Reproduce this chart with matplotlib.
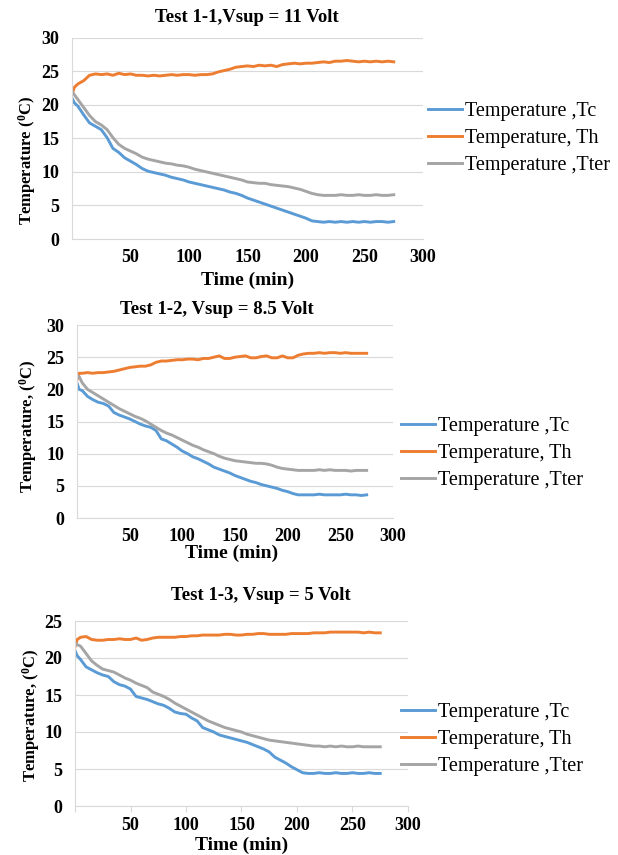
import numpy as np
import matplotlib
matplotlib.use('Agg')
import matplotlib.pyplot as plt

plt.rcParams['font.family'] = ['Liberation Serif', 'DejaVu Serif']
plt.rcParams['mathtext.fontset'] = 'custom'
plt.rcParams['mathtext.rm'] = 'Liberation Serif:bold'
plt.rcParams['mathtext.default'] = 'rm'

# time axis (min), same for all three tests
minutes = [0, 2, 5] + list(range(10, 280, 5))

# Test 1-1, Vsup = 11 V
tc_1 = [21.0, 20.3, 19.8,
        18.5, 17.3, 16.8, 16.3, 15.1, 13.5, 12.9, 12.1,
        11.6, 11.1, 10.5, 10.1, 9.9, 9.7, 9.5, 9.2, 9.0, 8.8,
        8.5, 8.3, 8.1, 7.9, 7.7, 7.5, 7.3, 7.0, 6.8, 6.5,
        6.1, 5.8, 5.5, 5.2, 4.9, 4.6, 4.3, 4.0, 3.7, 3.4,
        3.1, 2.7, 2.6, 2.5, 2.6, 2.5, 2.6, 2.5, 2.6, 2.5,
        2.6, 2.5, 2.6, 2.6, 2.5, 2.6]
th_1 = [21.5, 22.6, 23.1,
        23.6, 24.4, 24.6, 24.5, 24.6, 24.4, 24.7, 24.5,
        24.6, 24.4, 24.4, 24.3, 24.4, 24.3, 24.4, 24.5, 24.4, 24.5,
        24.5, 24.4, 24.5, 24.5, 24.6, 24.9, 25.1, 25.3, 25.6, 25.7,
        25.8, 25.7, 25.9, 25.8, 25.9, 25.7, 26.0, 26.1, 26.2, 26.1,
        26.2, 26.2, 26.3, 26.4, 26.3, 26.5, 26.5, 26.6, 26.5, 26.4,
        26.5, 26.4, 26.5, 26.4, 26.5, 26.4]
tter_1 = [22.0, 21.5, 20.8,
          19.6, 18.4, 17.5, 17.0, 16.3, 15.1, 14.1, 13.5,
          13.1, 12.7, 12.2, 11.9, 11.7, 11.5, 11.3, 11.2, 11.0, 10.9,
          10.7, 10.4, 10.2, 10.0, 9.8, 9.6, 9.4, 9.2, 9.0, 8.8,
          8.5, 8.4, 8.3, 8.3, 8.1, 8.0, 7.9, 7.8, 7.6, 7.4,
          7.1, 6.8, 6.6, 6.5, 6.5, 6.5, 6.6, 6.5, 6.5, 6.6,
          6.5, 6.5, 6.6, 6.5, 6.5, 6.6]

# Test 1-2, Vsup = 8.5 V
tc_2 = [21.0, 20.0, 19.8,
        18.9, 18.4, 18.0, 17.8, 17.4, 16.4, 16.0, 15.7,
        15.4, 15.0, 14.6, 14.3, 14.1, 13.6, 12.3, 12.0, 11.5, 11.0,
        10.4, 10.0, 9.5, 9.2, 8.8, 8.4, 7.9, 7.6, 7.3, 7.0,
        6.6, 6.3, 6.0, 5.7, 5.5, 5.2, 5.0, 4.8, 4.6, 4.3,
        4.1, 3.8, 3.6, 3.6, 3.6, 3.6, 3.7, 3.6, 3.6, 3.6,
        3.6, 3.7, 3.6, 3.6, 3.5, 3.6]
th_2 = [21.5, 22.5, 22.5,
        22.6, 22.5, 22.6, 22.6, 22.7, 22.8, 23.0, 23.2,
        23.4, 23.5, 23.6, 23.6, 23.8, 24.2, 24.4, 24.4, 24.5, 24.6,
        24.6, 24.7, 24.7, 24.6, 24.8, 24.8, 25.0, 25.2, 24.8, 24.8,
        25.0, 25.1, 25.2, 24.9, 24.9, 25.1, 25.2, 24.9, 24.9, 25.2,
        24.9, 24.9, 25.3, 25.5, 25.6, 25.6, 25.7, 25.6, 25.7, 25.7,
        25.6, 25.7, 25.6, 25.6, 25.6, 25.6]
tter_2 = [22.0, 22.0, 21.0,
          20.0, 19.5, 19.0, 18.5, 18.0, 17.5, 17.0, 16.6,
          16.2, 15.8, 15.5, 15.1, 14.6, 14.1, 13.6, 13.2, 12.9, 12.5,
          12.1, 11.7, 11.3, 11.0, 10.6, 10.3, 10.0, 9.6, 9.3, 9.1,
          8.9, 8.8, 8.7, 8.6, 8.5, 8.5, 8.4, 8.2, 7.9, 7.7,
          7.6, 7.5, 7.4, 7.4, 7.4, 7.4, 7.5, 7.4, 7.5, 7.4,
          7.4, 7.4, 7.3, 7.4, 7.4, 7.4]

# Test 1-3, Vsup = 5 V
tc_3 = [21.0, 20.3, 19.8,
        18.8, 18.4, 18.0, 17.7, 17.5, 16.8, 16.4, 16.2,
        15.8, 14.8, 14.6, 14.4, 14.1, 13.8, 13.6, 13.2, 12.7, 12.5,
        12.4, 11.9, 11.5, 10.6, 10.3, 10.0, 9.6, 9.4, 9.2, 9.0,
        8.8, 8.6, 8.3, 8.0, 7.7, 7.3, 6.6, 6.2, 5.8, 5.3,
        4.9, 4.5, 4.4, 4.4, 4.5, 4.4, 4.4, 4.5, 4.4, 4.4,
        4.5, 4.4, 4.4, 4.5, 4.4, 4.4]
th_3 = [21.5, 22.5, 22.8,
        22.9, 22.5, 22.4, 22.4, 22.5, 22.5, 22.6, 22.5,
        22.5, 22.7, 22.4, 22.5, 22.7, 22.8, 22.8, 22.8, 22.8, 22.9,
        22.9, 23.0, 23.0, 23.1, 23.1, 23.1, 23.1, 23.2, 23.2, 23.1,
        23.1, 23.2, 23.2, 23.3, 23.3, 23.2, 23.2, 23.2, 23.2, 23.3,
        23.3, 23.3, 23.3, 23.4, 23.4, 23.4, 23.5, 23.5, 23.5, 23.5,
        23.5, 23.5, 23.4, 23.5, 23.4, 23.4]
tter_3 = [22.0, 21.8, 21.6,
          20.6, 19.6, 19.0, 18.5, 18.3, 18.1, 17.7, 17.3,
          17.0, 16.6, 16.3, 16.0, 15.4, 15.1, 14.8, 14.4, 13.9, 13.5,
          13.1, 12.7, 12.3, 11.9, 11.5, 11.2, 10.9, 10.6, 10.4, 10.2,
          10.0, 9.7, 9.5, 9.3, 9.1, 8.9, 8.8, 8.7, 8.6, 8.5,
          8.4, 8.3, 8.2, 8.1, 8.1, 8.0, 8.1, 8.0, 8.1, 8.0,
          8.0, 8.1, 8.0, 8.0, 8.0, 8.0]

titles = ['Test 1-1,Vsup = 11 Volt', 'Test 1-2, Vsup = 8.5 Volt', 'Test 1-3, Vsup = 5 Volt']
ylabels = [r'Temperature ($^{0}$C)', r'Temperature, ($^{0}$C)', r'Temperature, ($^{0}$C)']
series_names = ['Temperature ,Tc', 'Temperature, Th', 'Temperature ,Tter']
colors = ['#5B9BD5', '#ED7D31', '#A5A5A5']
xtick_vals = [0, 50, 100, 150, 200, 250, 300]
xtick_labels = ['', '50', '100', '150', '200', '250', '300']

W, H = 618, 855
fig = plt.figure(figsize=(W / 100, H / 100), dpi=100)

def fx(px):
    return px / W

def fy(py):
    return 1 - py / H

# pixel layout of each panel: left, right, top, bottom, ymax
panels = [
    dict(l=72, r=423, t=37.7, b=239, ymax=30, ticks=False,
         title=(247, 18), ylab=(27, 160), xlab=(248, 280), leg=(428, 102)),
    dict(l=77, r=393, t=325, b=518, ymax=30, ticks=False,
         title=(217, 310), ylab=(28, 426), xlab=(232, 553), leg=(401, 417)),
    dict(l=75, r=408, t=621, b=806, ymax=25, ticks=True,
         title=(261, 595), ylab=(31, 715), xlab=(242, 845), leg=(401, 703)),
]
data = [(tc_1, th_1, tter_1), (tc_2, th_2, tter_2), (tc_3, th_3, tter_3)]

for i, p in enumerate(panels):
    ax = fig.add_axes([fx(p['l']), fy(p['b']), fx(p['r'] - p['l']), (p['b'] - p['t']) / H])
    lines = []
    for vals, c, name in zip(data[i], colors, series_names):
        ln, = ax.plot(minutes, vals, color=c, lw=2.1, label=name)
        lines.append(ln)
    ax.set_xlim(0, 300)
    ax.set_ylim(0, p['ymax'])
    ax.set_yticks(np.arange(0, p['ymax'] + 1, 5))
    ax.set_xticks(xtick_vals)
    ax.set_xticklabels(xtick_labels)
    ax.grid(axis='y', color='#d9d9d9', lw=0.8)
    ax.set_axisbelow(True)
    for s in ['top', 'right']:
        ax.spines[s].set_visible(False)
    for s in ['left', 'bottom']:
        ax.spines[s].set_color('#d9d9d9')
        ax.spines[s].set_linewidth(0.8)
    ax.tick_params(axis='y', length=0, pad=9, labelsize=13)
    if p['ticks']:
        ax.tick_params(axis='x', length=4, color='#d9d9d9', pad=4, labelsize=13)
    else:
        ax.tick_params(axis='x', length=0, pad=7, labelsize=13)
    for lab in ax.get_xticklabels() + ax.get_yticklabels():
        lab.set_fontweight('bold')

    fig.text(fx(p['title'][0]), fy(p['title'][1]), titles[i], ha='center', va='center',
             fontsize=13.5, fontweight='bold')
    fig.text(fx(p['ylab'][0]), fy(p['ylab'][1]), ylabels[i], ha='center', va='center',
             rotation=90, fontsize=12, fontweight='bold')
    fig.text(fx(p['xlab'][0]), fy(p['xlab'][1]), 'Time (min)', ha='center', va='center',
             fontsize=14, fontweight='bold')
    fig.legend(handles=lines, loc='upper left', bbox_to_anchor=(fx(p['leg'][0]), fy(p['leg'][1])),
               frameon=False, fontsize=14.5, handlelength=1.7, handletextpad=0.15,
               labelspacing=0.4, borderpad=0, borderaxespad=0)

fig.savefig('out.png', dpi=100)
